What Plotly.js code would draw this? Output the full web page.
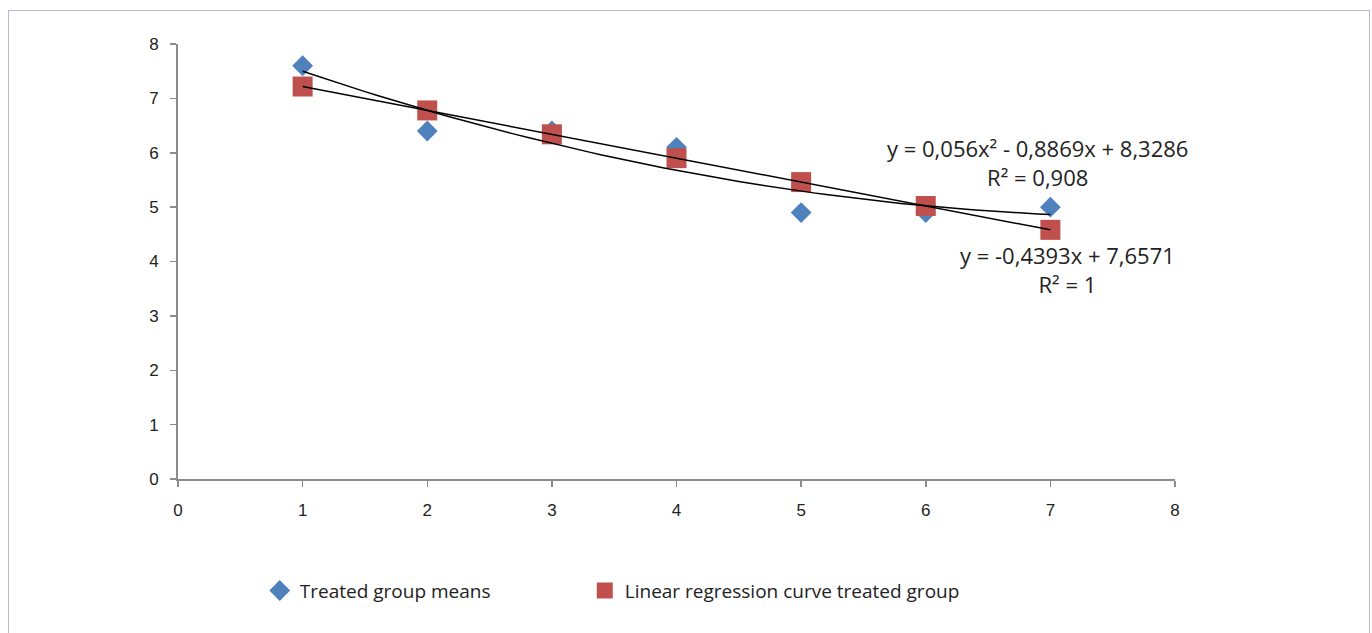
<!DOCTYPE html>
<html>
<head>
<meta charset="utf-8">
<script src="https://cdn.plot.ly/plotly-3.0.1.min.js"></script>
<style>
  html, body { margin: 0; padding: 0; background: #fff; }
  #wrap { position: relative; width: 1372px; height: 633px; overflow: hidden; }
  #chart { position: absolute; left: 0; top: 0; width: 1372px; height: 633px; }
  #frame { position: absolute; left: 8px; top: 10px; width: 1360px; height: 640px;
           border: 1px solid #bcb8dc; pointer-events: none; }
</style>
</head>
<body>
<div id="wrap">
  <div id="chart"></div>
  <div id="frame"></div>
</div>
<script>
// Data
const xValues = [1, 2, 3, 4, 5, 6, 7];
const treatedMeans = [7.6, 6.4, 6.4, 6.1, 4.9, 4.9, 5.0];
const linearRegression = [7.2178, 6.7785, 6.3392, 5.8999, 5.4606, 5.0213, 4.5820];
// Trendline coefficients as printed on the chart
const polyCoef = [8.3286, -0.8869, 0.056];   // c0 + c1 x + c2 x^2
const linCoef = [7.6571, -0.4393];           // c0 + c1 x
const seriesNames = ["Treated group means", "Linear regression curve treated group"];
const xTicks = [0, 1, 2, 3, 4, 5, 6, 7, 8];
const yTicks = [0, 1, 2, 3, 4, 5, 6, 7, 8];
const polyLabel = 'y = 0,056x² - 0,8869x + 8,3286<br>R² = 0,908';
const linLabel = 'y = -0,4393x + 7,6571<br>R² = 1';

// trendline sampling along the fitted range
const trendX = [];
for (let i = 0; i <= 60; i++) trendX.push(1 + i * 0.1);
const polyY = trendX.map(x => polyCoef[0] + polyCoef[1] * x + polyCoef[2] * x * x);
const linY = trendX.map(x => linCoef[0] + linCoef[1] * x);

const traces = [
  { x: xValues, y: treatedMeans, name: seriesNames[0], type: 'scatter', mode: 'markers',
    legend: 'legend',
    marker: { symbol: 'diamond', size: 16, color: '#4F81BD' } },
  { x: xValues, y: linearRegression, name: seriesNames[1], type: 'scatter', mode: 'markers',
    legend: 'legend2',
    marker: { symbol: 'square', size: 20, color: '#C0504D' } },
  { x: trendX, y: polyY, type: 'scatter', mode: 'lines', showlegend: false, hoverinfo: 'skip',
    line: { color: '#000', width: 1.5 } },
  { x: trendX, y: linY, type: 'scatter', mode: 'lines', showlegend: false, hoverinfo: 'skip',
    line: { color: '#000', width: 1.5 } }
];

const fontTick = { family: 'Liberation Sans, Arial, sans-serif', size: 17, color: '#222' };
const fontText = { family: 'Open Sans, Lato, sans-serif', size: 22, color: '#222' };
const fontLegend = { family: 'Open Sans, Lato, sans-serif', size: 19, color: '#222' };

const layout = {
  width: 1372, height: 633,
  margin: { l: 178, r: 197, t: 44, b: 154 },
  paper_bgcolor: '#fff', plot_bgcolor: '#fff',
  showlegend: true,
  legend: {
    orientation: 'h', x: 0.082, y: -0.213, xanchor: 'left', yanchor: 'top',
    font: fontLegend, itemwidth: 30, bgcolor: 'rgba(0,0,0,0)'
  },
  legend2: {
    orientation: 'h', x: 0.408, y: -0.213, xanchor: 'left', yanchor: 'top',
    font: fontLegend, itemwidth: 30, bgcolor: 'rgba(0,0,0,0)'
  },
  xaxis: {
    range: [0, 8], tickvals: xTicks, ticktext: xTicks.map(String),
    showgrid: false, zeroline: false, showline: true, linecolor: '#8c8c8c', linewidth: 2,
    ticks: 'outside', ticklen: 6, tickcolor: '#8c8c8c', tickwidth: 1.5,
    tickfont: fontTick, ticklabelstandoff: 9, fixedrange: true
  },
  yaxis: {
    range: [0, 8], tickvals: yTicks, ticktext: yTicks.map(String),
    showgrid: false, zeroline: false, showline: true, linecolor: '#8c8c8c', linewidth: 2,
    ticks: 'outside', ticklen: 6, tickcolor: '#8c8c8c', tickwidth: 1.5,
    tickfont: fontTick, ticklabelstandoff: 8, fixedrange: true
  },
  annotations: [
    { xref: 'x', yref: 'y', x: 6.9, y: 5.82, xanchor: 'center', yanchor: 'middle', showarrow: false,
      text: polyLabel, font: fontText },
    { xref: 'x', yref: 'y', x: 7.14, y: 3.85, xanchor: 'center', yanchor: 'middle', showarrow: false,
      text: linLabel, font: fontText }
  ]
};

Plotly.newPlot('chart', traces, layout, { displayModeBar: false, staticPlot: true });
</script>
</body>
</html>
